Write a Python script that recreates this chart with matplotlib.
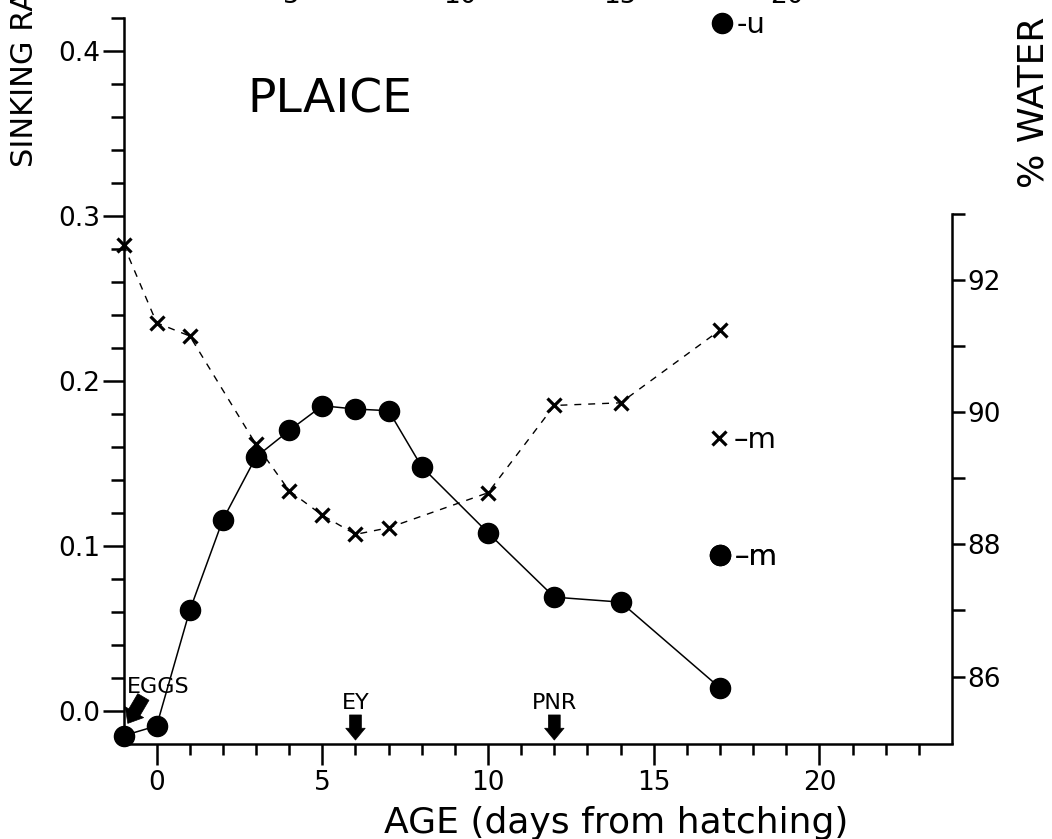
import matplotlib
matplotlib.use("Agg")
import matplotlib.pyplot as plt
from matplotlib.lines import Line2D

plt.rcParams['font.family'] = ['DejaVu Sans']

# Sinking rate of plaice larvae against age (days from hatching)
age_rate = [-1, 0, 1, 2, 3, 4, 5, 6, 7, 8, 10, 12, 14, 17]
sinking_rate = [-0.015, -0.009, 0.061, 0.116, 0.154, 0.170, 0.185, 0.183,
                0.182, 0.148, 0.108, 0.069, 0.066, 0.014]

# Water content (%) against age
age_water = [-1, 0, 1, 3, 4, 5, 6, 7, 10, 12, 14, 17]
water_pct = [92.53, 91.35, 91.15, 89.51, 88.81, 88.44, 88.15, 88.25,
             88.78, 90.10, 90.14, 91.24]

x_major = [0, 5, 10, 15, 20]
x_minor = [d for d in range(0, 24) if d % 5]
y_left_major = [0.0, 0.1, 0.2, 0.3, 0.4]
y_left_minor = [round(0.02 * i, 2) for i in range(1, 22) if i % 5]
y_right_major = [86, 88, 90, 92]
y_right_minor = [87, 89, 91, 93]

# Developmental stage markers on the age axis
stage_labels = ['EY', 'PNR']
stage_days = [6, 12]

W, H = 1052, 839
fig = plt.figure(figsize=(W / 100, H / 100), dpi=100)
ax = fig.add_axes([123.5 / W, 1 - 744 / H, 828.5 / W, 726 / H])
ax.set_xlim(-1, 24)
ax.set_ylim(-0.02, 0.42)

for side in ('top', 'right'):
    ax.spines[side].set_visible(False)
for side in ('left', 'bottom'):
    ax.spines[side].set_linewidth(1.8)

ax.set_xticks(x_major, labels=[str(v) for v in x_major])
ax.set_xticks(x_minor, minor=True)
ax.set_yticks(y_left_major, labels=[f"{v:.1f}" for v in y_left_major])
ax.set_yticks(y_left_minor, minor=True)
ax.tick_params(which='both', direction='out', width=1.8, labelsize=19)
ax.tick_params(axis='x', which='major', length=15, pad=4)
ax.tick_params(axis='x', which='minor', length=8)
ax.tick_params(axis='y', which='major', length=15, pad=1.5)
ax.tick_params(axis='y', which='minor', length=9.5)

ax2 = ax.twinx()
ax2.set_ylim(84.98, 95.96)
for side in ('top', 'left', 'bottom'):
    ax2.spines[side].set_visible(False)
ax2.spines['right'].set_linewidth(1.8)
ax2.spines['right'].set_bounds(85, 93)
ax2.set_yticks(y_right_major, labels=[str(v) for v in y_right_major])
ax2.set_yticks(y_right_minor, minor=True)
ax2.tick_params(axis='y', which='both', direction='out', length=9.5,
                width=1.8, labelsize=19, pad=1.5)

# Sinking rate: filled circles joined by a solid line
ax.plot(age_rate, sinking_rate, color='k', lw=1.1, marker='o', ms=14.5,
        zorder=3, clip_on=False)
# Water content: crosses joined by a dashed line
ax2.plot(age_water, water_pct, color='k', lw=1.0, ls=(0, (5, 5)),
         marker='x', ms=10.5, mew=2.3, clip_on=False)

ax.text(5.23, 0.370, 'PLAICE', fontsize=34, ha='center', va='center')

arrow_style = 'simple,head_length=0.85,head_width=1.4,tail_width=0.85'
for d, lab in zip(stage_days, stage_labels):
    ax.annotate('', xy=(d, -0.0176), xytext=(d, -0.0024),
                arrowprops=dict(arrowstyle=arrow_style, mutation_scale=10,
                                fc='k', ec='k', lw=0.5, shrinkA=0, shrinkB=0))
    ax.text(d, 0.001, lab, ha='center', va='baseline', fontsize=16)

ax.text(-0.9, 0.011, 'EGGS', ha='left', va='baseline', fontsize=16)
ax.annotate('', xy=(-0.87, -0.0075), xytext=(-0.40, 0.0085),
            arrowprops=dict(arrowstyle=arrow_style, mutation_scale=11,
                            fc='k', ec='k', lw=0.5, shrinkA=0, shrinkB=0))

# Symbol keys
def key(handle, label, x_px, y_px):
    leg = ax.legend(handles=[handle], labels=[label], loc='center left',
                    bbox_to_anchor=(x_px / W, 1 - y_px / H),
                    bbox_transform=fig.transFigure, frameon=False,
                    fontsize=21, handlelength=1.0, handletextpad=0.0,
                    borderpad=0, borderaxespad=0)
    ax.add_artist(leg)

dot = Line2D([], [], color='k', ls='none', marker='o', ms=14.5)
cross = Line2D([], [], color='k', ls='none', marker='x', ms=10.5, mew=2.3)
key(dot, '-u', 707, 25)
key(cross, '\u2013m', 704, 440)
key(dot, '\u2013m', 705, 557)

ax.set_xlabel('AGE (days from hatching)', fontsize=26)
ax.xaxis.set_label_coords(616 / W, 1 - 833 / H, transform=fig.transFigure)
ax.xaxis.label.set_va('baseline')

fig.text(24.5 / W, 1 - 167 / H, 'SINKING RATE', rotation=90, ha='center',
         va='bottom', fontsize=22)
fig.text(1034 / W, 1 - 188 / H, '% WATER', rotation=90, ha='center',
         va='bottom', fontsize=26)

# Age scale of the panel above, mostly outside the figure
for xp, s in zip([291, 460, 620, 787], ['5', '10', '15', '20']):
    fig.text(xp / W, 1 - 3 / H, s, ha='center', va='baseline', fontsize=19)

fig.savefig('out.png', dpi=100)
